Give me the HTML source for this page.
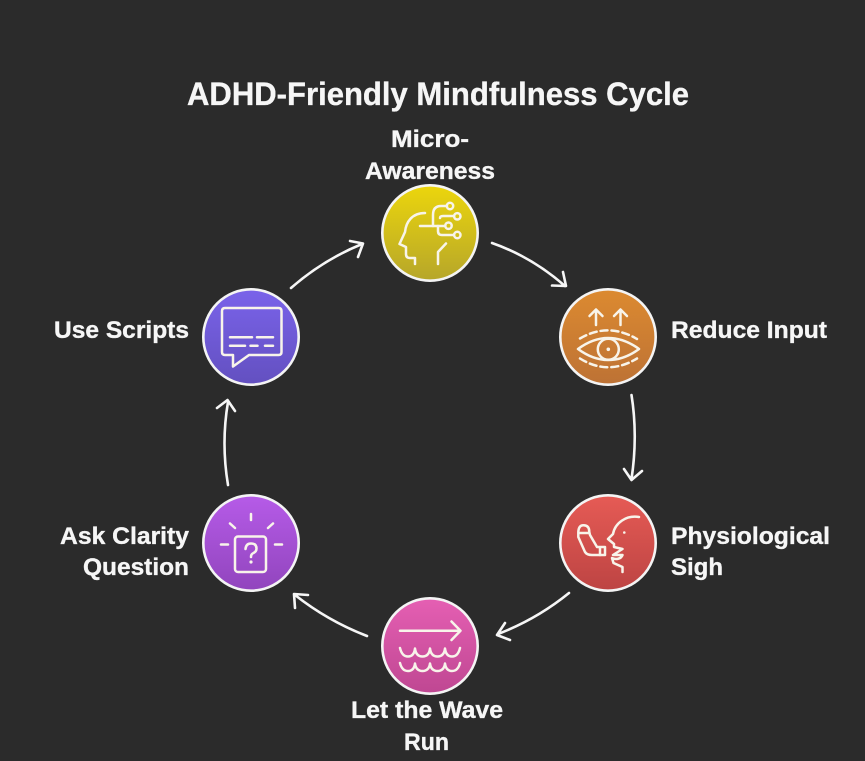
<!DOCTYPE html>
<html><head><meta charset="utf-8"><title>ADHD-Friendly Mindfulness Cycle</title>
<style>html,body{margin:0;padding:0;background:#2b2b2b;width:865px;height:761px;overflow:hidden}svg{display:block}
text{font-family:"Liberation Sans",sans-serif;font-weight:700;fill:#f6f6f6;font-size:24px;stroke:#f6f6f6;stroke-width:.35px}
.c{stroke:#f4f4f4;stroke-width:2.6}
.i{fill:none;stroke:#f8f4ea;stroke-width:2.5;stroke-linecap:round;stroke-linejoin:round}
.a{fill:none;stroke:#f6f6f6;stroke-width:2.6;stroke-linecap:round;stroke-linejoin:round}
</style></head><body>
<svg width="865" height="761" viewBox="0 0 865 761" xmlns="http://www.w3.org/2000/svg">
<defs>
<linearGradient id="g1" x1="0" y1="0" x2="0" y2="1"><stop offset="0" stop-color="#ecd60c"/><stop offset="1" stop-color="#b6a62a"/></linearGradient>
<linearGradient id="g2" x1="0" y1="0" x2="0" y2="1"><stop offset="0" stop-color="#dc8a30"/><stop offset="1" stop-color="#bd7235"/></linearGradient>
<linearGradient id="g3" x1="0" y1="0" x2="0" y2="1"><stop offset="0" stop-color="#e65b55"/><stop offset="1" stop-color="#bd4443"/></linearGradient>
<linearGradient id="g4" x1="0" y1="0" x2="0" y2="1"><stop offset="0" stop-color="#e55fb3"/><stop offset="1" stop-color="#bf4792"/></linearGradient>
<linearGradient id="g5" x1="0" y1="0" x2="0" y2="1"><stop offset="0" stop-color="#b65be8"/><stop offset="1" stop-color="#9145bd"/></linearGradient>
<linearGradient id="g6" x1="0" y1="0" x2="0" y2="1"><stop offset="0" stop-color="#7a63ea"/><stop offset="1" stop-color="#6350c0"/></linearGradient>
</defs>
<rect width="865" height="761" fill="#2b2b2b"/>

<text x="187" y="105" style="font-size:32px" textLength="502" lengthAdjust="spacingAndGlyphs">ADHD-Friendly Mindfulness Cycle</text>
<text x="391" y="147" textLength="78" lengthAdjust="spacingAndGlyphs">Micro-</text>
<text x="365" y="179" textLength="130" lengthAdjust="spacingAndGlyphs">Awareness</text>
<text x="671" y="338" textLength="156" lengthAdjust="spacingAndGlyphs">Reduce Input</text>
<text x="671" y="544" textLength="159" lengthAdjust="spacingAndGlyphs">Physiological</text>
<text x="671" y="575" textLength="52" lengthAdjust="spacingAndGlyphs">Sigh</text>
<text x="351" y="718" textLength="152" lengthAdjust="spacingAndGlyphs">Let the Wave</text>
<text x="404" y="750" textLength="45" lengthAdjust="spacingAndGlyphs">Run</text>
<text x="60" y="544" textLength="129" lengthAdjust="spacingAndGlyphs">Ask Clarity</text>
<text x="83" y="575" textLength="106" lengthAdjust="spacingAndGlyphs">Question</text>
<text x="54" y="338" textLength="135" lengthAdjust="spacingAndGlyphs">Use Scripts</text>

<circle class="c" cx="430" cy="233" r="47.7" fill="url(#g1)"/>
<circle class="c" cx="608" cy="337" r="47.7" fill="url(#g2)"/>
<circle class="c" cx="608" cy="543" r="47.7" fill="url(#g3)"/>
<circle class="c" cx="430" cy="646" r="47.7" fill="url(#g4)"/>
<circle class="c" cx="251" cy="543" r="47.7" fill="url(#g5)"/>
<circle class="c" cx="251" cy="337" r="47.7" fill="url(#g6)"/>

<!-- arrows -->
<path class="a" d="M291 288Q323 260 362 244"/><path class="a" d="M350 241L363 243.500L358 257"/>
<path class="a" d="M492 243Q532 257 565 286"/><path class="a" d="M552 285.500L566 286L563 272"/>
<path class="a" d="M631.500 395Q638 436 631.500 479"/><path class="a" d="M624 469L631.500 480L642 471"/>
<path class="a" d="M569 593Q537 619 498 634"/><path class="a" d="M510 640L497 635L505 623"/>
<path class="a" d="M367 636Q328 621 295 595"/><path class="a" d="M295 608L294 594L308 595"/>
<path class="a" d="M228 485Q221 443 228 402"/><path class="a" d="M217 408L227.500 400L235 411"/>

<!-- micro-awareness -->
<g class="i">
<path d="M425 213C412 213 406 222 405 232L399.500 244L406 247V254Q406 258 410 258H415V264"/>
<path d="M446 243.500L438 252V264"/>
<path d="M420 226H445"/>
<path d="M433 226V215Q433 206 441 206H447"/>
<path d="M440 218Q440 216 443 216H454"/>
<path d="M438 226V231Q438 235 442 235H454"/>
<circle cx="450" cy="206" r="3.200"/><circle cx="457.300" cy="216.300" r="3.200"/><circle cx="448.500" cy="225.700" r="3.200"/><circle cx="457.300" cy="235" r="3.200"/>
</g>

<!-- reduce input -->
<g class="i">
<path d="M596 325V310M589.500 316L596 309.500L602.500 316"/>
<path d="M620.500 325V310M614 316L620.500 309.500L627 316"/>
<path d="M578 349Q593 338 608 338Q624 338 639 349Q624 360 608 360Q593 360 578 349Z"/>
<circle cx="608.300" cy="349.300" r="10.500"/>
<circle cx="608.300" cy="349.300" r="1.800" fill="#f8f4ea" stroke="none"/>
<path stroke-dasharray="7 4" d="M580 338.500Q608 322 637 339"/>
<path stroke-dasharray="7 4" d="M580 358.500Q608 376 637 358.500"/>
</g>

<!-- physiological sigh -->
<g class="i">
<path d="M639 517C626 515 615 523 613 534L608 539L614 544V547L622.500 549L613 555H622.500C621 559 616 560 612 558L613.500 563L622.500 567V572"/>
<circle cx="624.300" cy="532.500" r="1.300" fill="#f8f4ea" stroke="none"/>
<path d="M578.300 537V533Q578.300 525.300 583.500 525.300Q589.300 525.300 589.300 532L590 535L597 547H605V555H592Q587 555 585 552Z"/>
<path d="M579 533H589M600 547.500V555"/>
</g>

<!-- let the wave run -->
<g class="i">
<path d="M400 630.700H460M451.500 621.500L460.500 630.700L451.500 640"/>
<path d="M400 648Q402 656.500 408 656.500Q414 656.500 415 648.500Q416 656.500 422.500 656.500Q429 656.500 430 648.500Q431 656.500 437.500 656.500Q444 656.500 445 648.500Q446 656.500 452 656.500Q458 656.500 460 648"/>
<path d="M400 663Q402 671 408 671Q414 671 415 663.500Q416 671 422.500 671Q429 671 430 663.500Q431 671 437.500 671Q444 671 445 663.500Q446 671 452 671Q458 671 460 663"/>
</g>

<!-- ask clarity question -->
<g class="i">
<rect x="235" y="536.500" width="31" height="35.500" rx="3"/>
<path d="M251 514V520M230 523.500L235 528M273 523.500L268 528M221 544.500H228M275 544.500H282"/>
<path d="M245.500 549Q246 543.500 251 543.500Q256.500 543.500 256.500 548.500Q256.500 551.500 253.500 553Q251 554 251 557"/>
<circle cx="251" cy="562" r="1.600" fill="#f8f4ea" stroke="none"/>
</g>

<!-- use scripts -->
<g class="i">
<path d="M225 308H278.500Q281.500 308 281.500 311V352Q281.500 355 278.500 355H249L233 366.500V355H225Q222 355 222 352V311Q222 308 225 308Z"/>
<path d="M230 337.300H252M257 337.300H273M230 345.700H245M250.500 345.700H257.500M265 345.700H273"/>
</g>
</svg>
</body></html>
